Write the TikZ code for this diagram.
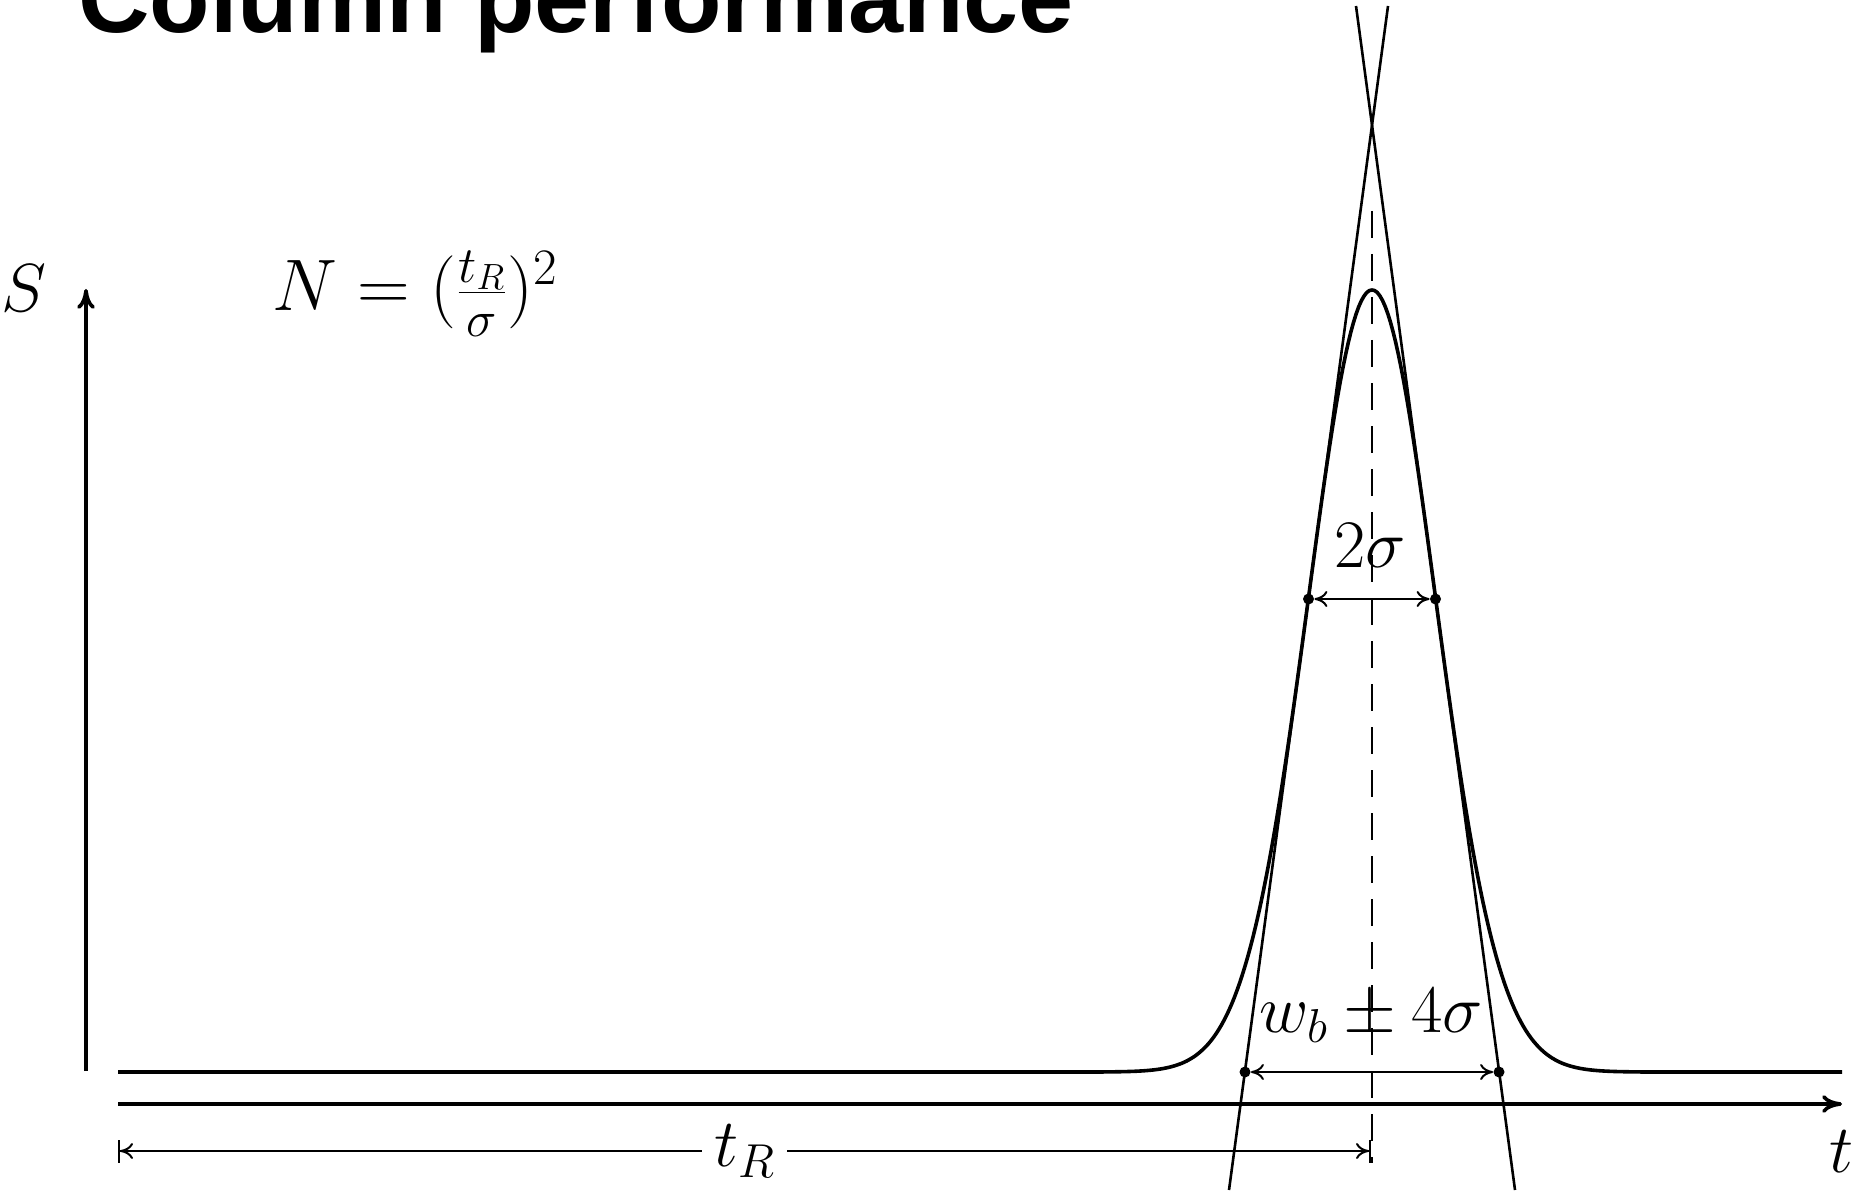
\documentclass[tikz,border=0pt]{standalone}
\usepackage{fix-cm}
\usepackage{fontspec}
\newfontfamily\titlefont{Liberation Sans}
\usetikzlibrary{arrows.meta}
\begin{document}
\begin{tikzpicture}[x=0.5pt,y=-0.5pt,
  thickline/.style={line width=1.8pt},
  tangent/.style={line width=1.3pt},
  dimline/.style={line width=1pt},
  axisline/.style={line width=1.8pt,-{Computer Modern Rightarrow[length=10pt,width=9pt]}},
  lab/.style={inner sep=0pt,font=\fontsize{34}{40}\selectfont},
  dot/.style={circle,fill=black,inner sep=0pt,minimum size=5.5pt}]
\useasboundingbox (0,0) rectangle (1856,1192);
% title
\node[anchor=base west,inner sep=0pt,font=\titlefont\bfseries\fontsize{49.5}{55}\selectfont] (title) at (78,33) {Column performance};
% axes
\coordinate (o) at (86,1071);
\coordinate (ytop) at (86,289);
\draw[axisline] (o) -- (ytop);
\coordinate (t0) at (118,1104);
\coordinate (t1) at (1842,1104);
\draw[axisline] (t0) -- (t1);
% signal
\coordinate (s0) at (118,1072);
\coordinate (s1) at (1842,1072);
\draw[thickline,line join=round] (s0) -- (1054.5,1072)
  -- plot[domain=-5:5,samples=241,variable=\u] ({1372+63.5*\u},{1072-782*exp(-\u*\u/2)})
  -- (s1);
% tangents
\coordinate (la) at (1229,1190);
\coordinate (lb) at (1388,6);
\coordinate (ra) at (1515,1190);
\coordinate (rb) at (1356,6);
\draw[tangent] (la) -- (lb);
\draw[tangent] (ra) -- (rb);
% dashed centre line
\coordinate (c0) at (1372,211);
\coordinate (c1) at (1372,1163);
\draw[line width=1pt,dash pattern=on 13.5pt off 8pt] (c0) -- (c1);
% 2 sigma
\node[dot] (i1) at (1308.5,599) {};
\node[dot] (i2) at (1435.5,599) {};
\draw[dimline,{Computer Modern Rightarrow[length=6.5pt,width=8pt]}-{Computer Modern Rightarrow[length=6.5pt,width=8pt]}] (i1) -- (i2);
\node[lab,anchor=base] (two) at (1370,567) {$2\sigma$};
% w_b
\node[dot] (b1) at (1245,1072) {};
\node[dot] (b2) at (1499,1072) {};
\draw[dimline,{Computer Modern Rightarrow[length=6.5pt,width=8pt]}-{Computer Modern Rightarrow[length=6.5pt,width=8pt]}] (b1) -- (b2);
\node[lab,anchor=base] (wb) at (1371,1032) {$w_b \pm 4\sigma$};
% t_R
\coordinate (tr0) at (118,1151);
\coordinate (tr1) at (1371,1151);
\draw[dimline,{Bar[width=11.5pt]Computer Modern Rightarrow[length=6.5pt,width=8pt]}-{Computer Modern Rightarrow[length=6.5pt,width=8pt]Bar[width=11.5pt]}] (tr0) -- node[lab,fill=white,inner sep=6pt] (trl) {$t_R$} (tr1);
% labels
\node[lab,anchor=base] (S) at (24,312) {$S$};
\node[lab,anchor=base west,font=\fontsize{36.5}{42}\selectfont] (N) at (272,311) {$N = (\frac{t_R}{\sigma})^2$};
\node[lab,anchor=base] (tl) at (1841,1172) {$t$};
\end{tikzpicture}
\end{document}
